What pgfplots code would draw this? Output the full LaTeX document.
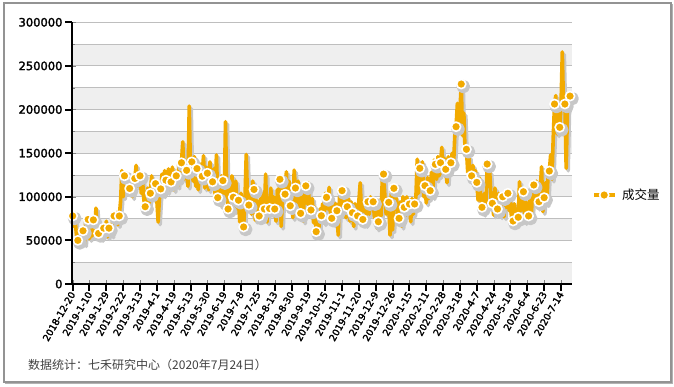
\documentclass[border=0pt]{standalone}
\usepackage{pgfplots}
\pgfplotsset{compat=1.18}
\usepackage{pgfplotstable}
\usepackage{fontspec}
\setmainfont{DejaVu Sans}[AutoFakeBold=2.2]
\newfontfamily\cjk{Noto Sans CJK SC}
\definecolor{vol}{RGB}{242,170,0}
\definecolor{band}{RGB}{239,239,239}
\definecolor{gridc}{RGB}{190,190,190}
\pgfplotstableread[row sep=\\]{
v\\
78000\\66000\\72000\\55000\\
50000\\62000\\47000\\58000\\
61000\\46000\\70000\\76000\\
74000\\52000\\66000\\55000\\
73500\\62000\\87000\\64000\\
58000\\70000\\52000\\66000\\
64000\\56000\\72000\\54000\\
64000\\68000\\56000\\74000\\
78000\\70000\\82000\\68000\\
78000\\95000\\130000\\100000\\
124000\\108000\\126000\\112000\\
109500\\122000\\100000\\118000\\
121000\\136000\\112000\\128000\\
124000\\104000\\118000\\96000\\
88600\\98000\\110000\\92000\\
104000\\124000\\98000\\112000\\
115000\\96000\\71000\\98000\\
109000\\126000\\102000\\130000\\
119000\\106000\\132000\\110000\\
117000\\134000\\108000\\128000\\
124000\\112000\\138000\\118000\\
139000\\163000\\120000\\142000\\
130300\\112000\\204000\\128000\\
140000\\118000\\146000\\112000\\
132300\\108000\\138000\\120000\\
123500\\147000\\110000\\134000\\
127000\\108000\\140000\\112000\\
117200\\132000\\102000\\148000\\
99000\\116000\\90000\\124000\\
118500\\100000\\186000\\104000\\
86000\\112000\\92000\\124000\\
99500\\84000\\118000\\88000\\
96000\\71000\\104000\\80000\\
65400\\96000\\148600\\100000\\
90500\\110000\\80000\\118000\\
108400\\73000\\96000\\82000\\
78000\\98000\\84000\\104000\\
86000\\126000\\71000\\92000\\
86500\\110000\\80000\\100000\\
86000\\72000\\108000\\96000\\
120000\\66000\\98000\\112000\\
103000\\128700\\92000\\118000\\
89700\\106000\\76000\\130600\\
110000\\88000\\118000\\94000\\
81000\\104000\\72000\\108000\\
112500\\92000\\116000\\78000\\
84800\\98000\\70000\\88000\\
60000\\74000\\62000\\86000\\
78300\\92000\\70000\\104000\\
99300\\86000\\110800\\80000\\
75300\\96000\\68000\\92000\\
84000\\56000\\100000\\82000\\
107000\\84000\\102000\\76000\\
88600\\98000\\72000\\94000\\
81700\\66000\\92000\\78000\\
78000\\96000\\116000\\82000\\
74000\\90000\\68000\\98000\\
94300\\80000\\100000\\86000\\
94300\\76000\\88000\\64000\\
71400\\96000\\78000\\118000\\
126000\\102000\\80000\\98000\\
93600\\56000\\104000\\62000\\
109700\\86000\\98000\\70000\\
75300\\94000\\66000\\100000\\
87900\\78000\\100000\\84000\\
91700\\71400\\98000\\80000\\
91700\\100000\\143000\\104000\\
132600\\118000\\140000\\100000\\
112700\\92800\\122000\\98000\\
107000\\128000\\100000\\142000\\
137200\\120000\\146000\\124000\\
139000\\156700\\126000\\144000\\
131500\\116000\\146000\\128000\\
139000\\150000\\134000\\170000\\
180300\\207000\\176000\\200000\\
229200\\170000\\196000\\150000\\
154400\\128000\\146000\\118000\\
124000\\136000\\112000\\130000\\
116500\\96000\\122000\\100000\\
87900\\81000\\104000\\90000\\
137500\\112000\\128700\\98000\\
92500\\79000\\110000\\84000\\
86000\\104000\\78000\\96000\\
100000\\77000\\106000\\88000\\
104000\\84000\\96000\\69500\\
72200\\92000\\70000\\86000\\
76500\\117300\\84000\\100000\\
105800\\71400\\94000\\82000\\
78000\\98000\\74000\\108000\\
113500\\96000\\118000\\88000\\
94300\\110000\\134400\\83000\\
99000\\116000\\92000\\124000\\
129500\\148000\\120000\\168000\\
206300\\216000\\172000\\196000\\
179600\\204000\\266000\\200000\\
206300\\132600\\198600\\204000\\
215400\\
}\vol
\begin{document}
\begin{tikzpicture}
\draw[black!30, line width=1.6pt] (-66.5pt,-99.5pt) -- (600.5pt,-99.5pt) -- (600.5pt,279.5pt);
\draw[gray!85, line width=1.2pt] (-68pt,-98pt) rectangle (599pt,281pt);
\begin{axis}[
  at={(0pt,0pt)}, anchor=south west,
  scale only axis, width=500pt, height=261.7pt,
  xmin=-0.5, xmax=385.5, ymin=0, ymax=300000,
  axis background/.style={path picture={
    \foreach \b in {0,43.617,87.233,130.85,174.467,218.083}
      \fill[band] ([yshift=\b pt]path picture bounding box.south west) rectangle ([yshift=\b pt+21.808pt]path picture bounding box.south east);
  }},
  axis x line*=bottom, axis y line*=left,
  axis line style={draw=none},
  xtick={0,13,...,377},
  xticklabels={2018-12-20,2019-1-10,2019-1-29,2019-2-22,2019-3-13,2019-4-1,2019-4-19,2019-5-13,2019-5-30,2019-6-19,2019-7-8,2019-7-25,2019-8-13,2019-8-30,2019-9-19,2019-10-15,2019-11-1,2019-11-20,2019-12-9,2019-12-26,2020-1-15,2020-2-11,2020-2-28,2020-3-18,2020-4-7,2020-4-24,2020-5-18,2020-6-4,2020-6-23,2020-7-14},
  ytick={0,50000,...,300000},
  yticklabels={0,50000,100000,150000,200000,250000,300000},
  minor ytick={25000,75000,...,275000},
  ymajorgrids, yminorgrids,
  major grid style={gridc, line width=0.9pt},
  minor grid style={gridc, line width=0.9pt},
  y tick label style={xshift=-6pt, font=\fontsize{11.5}{11.5}\selectfont\bfseries},
  x tick label style={yshift=-7pt, xshift=1pt, font=\fontsize{9.5}{9.5}\selectfont\bfseries, rotate=60, anchor=east, inner sep=1.5pt},
  scaled y ticks=false,
  clip=false,
  legend style={at={(1.04,0.34)}, anchor=west, draw=none, fill=none,
    font=\cjk\fontsize{12.5}{12.5}\selectfont, inner sep=0pt},
  legend image code/.code={\draw[#1, line width=4pt, mark repeat=2, mark phase=2, mark size=4.6pt, mark options={fill=vol, draw=white, line width=1.6pt}] plot coordinates {(0pt,0pt) (10pt,0pt) (21pt,0pt)};},
]
\addplot[black!22, line width=3.6pt, line join=round, xshift=2pt, yshift=-2.5pt,
  mark=*, mark repeat=4, mark size=5pt, mark options={fill=black!22, draw=none}, forget plot]
  table[x expr=\coordindex, y=v] {\vol};
\addplot[vol, line width=3.6pt, line join=round,
  mark=*, mark repeat=4, mark size=4.6pt, mark options={fill=vol, draw=white, line width=1.6pt}]
  table[x expr=\coordindex, y=v] {\vol};
\addlegendentry{\hspace{3pt}成交量}
\end{axis}
% axis lines and tick marks
\draw[black, line width=2.2pt] (-1.1pt,0pt) -- (500pt,0pt);
\draw[black, line width=2.2pt] (0pt,-1.1pt) -- (0pt,261.7pt);
\foreach \t in {0,13,...,377}
  \draw[black, line width=2pt] ({(\t+0.5)*1.295337pt},0pt) -- ++(0pt,-7pt);
\foreach \k in {0,...,6}
  \draw[black, line width=2pt] (0pt,{\k*43.6167pt}) -- ++(-7pt,0pt);
\node[anchor=west, text=black!75, font=\cjk\fontsize{12}{12}\selectfont, inner sep=0pt] at (-44pt,-81pt) {数据统计：七禾研究中心（2020年7月24日）};
\path (-72pt,-102pt) rectangle (602pt,284pt);
\end{tikzpicture}
\end{document}
